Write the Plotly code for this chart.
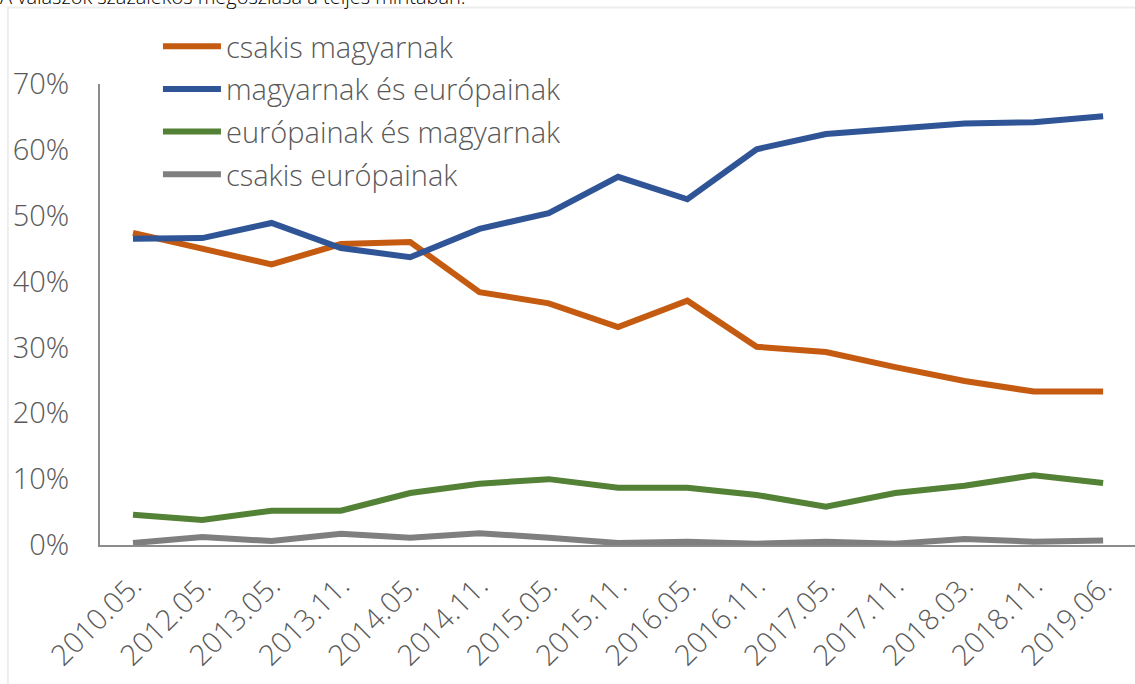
import plotly.graph_objects as go

categories = ["2010.05.", "2012.05.", "2013.05.", "2013.11.", "2014.05.", "2014.11.",
              "2015.05.", "2015.11.", "2016.05.", "2016.11.", "2017.05.", "2017.11.",
              "2018.03.", "2018.11.", "2019.06."]

csakis_magyarnak = [0.474, 0.451, 0.426, 0.457, 0.460, 0.384, 0.367, 0.331, 0.371, 0.301,
                    0.293, 0.270, 0.249, 0.233, 0.233]
magyarnak_es_europainak = [0.465, 0.466, 0.489, 0.451, 0.437, 0.480, 0.504, 0.559, 0.525,
                           0.601, 0.624, 0.632, 0.640, 0.642, 0.651]
europainak_es_magyarnak = [0.046, 0.038, 0.052, 0.052, 0.079, 0.093, 0.100, 0.087, 0.087,
                           0.076, 0.058, 0.079, 0.090, 0.106, 0.094]
csakis_europainak = [0.003, 0.012, 0.006, 0.017, 0.011, 0.018, 0.011, 0.003, 0.005, 0.002,
                     0.005, 0.002, 0.009, 0.005, 0.007]

series_names = ["csakis magyarnak", "magyarnak és európainak",
                "európainak és magyarnak", "csakis európainak"]
series_colors = ["#C55A11", "#2F5597", "#538135", "#7F7F7F"]
series_values = [csakis_magyarnak, magyarnak_es_europainak,
                 europainak_es_magyarnak, csakis_europainak]

y_tickvals = [0, 0.1, 0.2, 0.3, 0.4, 0.5, 0.6, 0.7]
y_ticktext = ["0%", "10%", "20%", "30%", "40%", "50%", "60%", "70%"]

title_text = "A válaszok százalékos megoszlása a teljes mintában."

FONT = "Open Sans"
GREY = "#595959"

fig = go.Figure()
# draw grey first so the others sit on top, but keep legend order
order = [3, 2, 0, 1]
for i in order:
    fig.add_trace(go.Scatter(
        x=categories, y=series_values[i], mode="lines", name=series_names[i],
        line=dict(color=series_colors[i], width=6, shape="linear"),
        legendrank=i + 1, legendgroup=f"g{i}",
    ))

fig.update_layout(
    width=1135, height=684,
    margin=dict(l=100, r=0, t=84, b=139),
    paper_bgcolor="white", plot_bgcolor="white",
    font=dict(family=FONT, color=GREY, size=29, weight=300),
    showlegend=True,
    legend=dict(
        x=0.056, y=1.137, xanchor="left", yanchor="top",
        bgcolor="rgba(0,0,0,0)", font=dict(size=29, color=GREY, family=FONT, weight=300),
        itemwidth=58, tracegroupgap=2, traceorder="grouped",
    ),
    xaxis=dict(
        type="category", range=[-0.476, 14.46],
        showline=True, linecolor="#8C8C8C", linewidth=2,
        showgrid=False, zeroline=False, ticks="",
        tickangle=-45, tickfont=dict(size=29, color=GREY, family=FONT, weight=300),
        ticklabelstandoff=10,
    ),
    yaxis=dict(
        range=[0, 0.7], tickvals=y_tickvals, ticktext=y_ticktext,
        showline=True, linecolor="#8C8C8C", linewidth=2,
        showgrid=False, zeroline=False, ticks="",
        tickfont=dict(size=29, color=GREY, family=FONT, weight=300),
        ticklabelstandoff=23,
    ),
    shapes=[dict(type="rect", xref="paper", yref="paper",
                 x0=-0.089, x1=1.2, y0=-0.5, y1=1.166,
                 line=dict(color="#EDEDED", width=2), fillcolor="rgba(0,0,0,0)",
                 layer="below")],
    annotations=[dict(text=title_text, xref="paper", yref="paper",
                      x=-0.0985, y=1.19, xanchor="left", yanchor="middle",
                      showarrow=False, font=dict(size=20, color="#000000", family=FONT))],
)

fig.write_html("out.html", post_script="document.body.style.margin='0';",
               config={"displayModeBar": False})
